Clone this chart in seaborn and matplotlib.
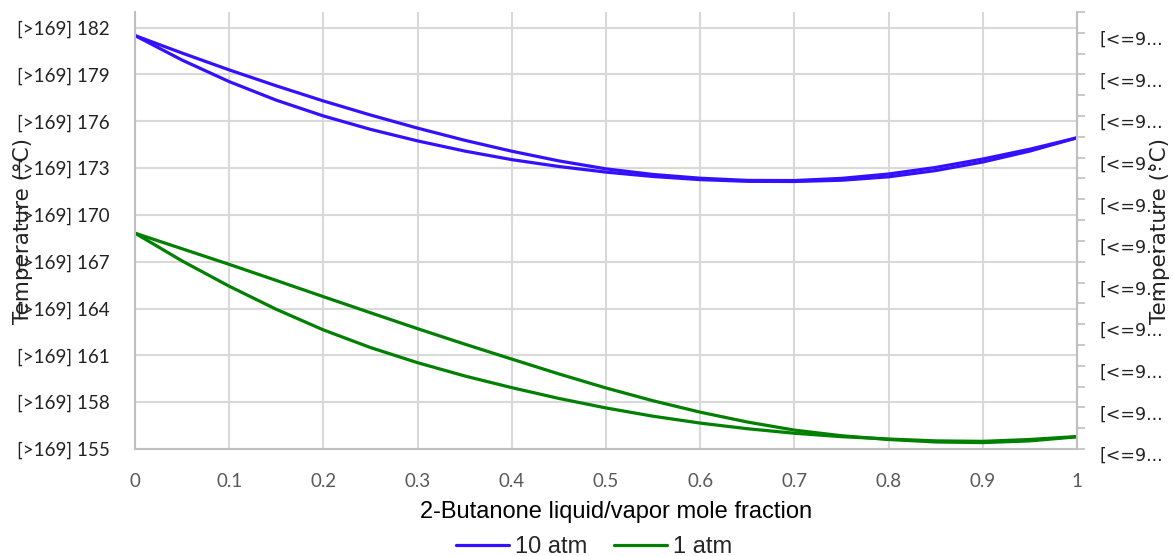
import matplotlib
matplotlib.use("Agg")
import matplotlib.pyplot as plt
import matplotlib.transforms as mtransforms
import seaborn as sns
import pandas as pd
from matplotlib.ticker import FixedLocator, FixedFormatter

# ---- data ----
x_frac = [0, 0.05, 0.1, 0.15, 0.2, 0.25, 0.3, 0.35, 0.4, 0.45, 0.5,
          0.55, 0.6, 0.65, 0.7, 0.75, 0.8, 0.85, 0.9, 0.95, 1.0]
t10_vapor = [181.49, 180.37, 179.29, 178.27, 177.30, 176.40, 175.56, 174.78, 174.08, 173.46, 172.95,
             172.59, 172.35, 172.21, 172.20, 172.34, 172.62, 173.04, 173.58, 174.21, 174.94]
t10_liquid = [181.49, 179.92, 178.54, 177.35, 176.34, 175.48, 174.74, 174.09, 173.54, 173.10, 172.74,
              172.46, 172.26, 172.15, 172.14, 172.22, 172.44, 172.84, 173.39, 174.09, 174.94]
t1_vapor = [168.83, 167.83, 166.83, 165.80, 164.76, 163.73, 162.71, 161.72, 160.76, 159.81, 158.91,
            158.09, 157.36, 156.73, 156.21, 155.85, 155.61, 155.45, 155.41, 155.52, 155.78]
t1_liquid = [168.83, 167.05, 165.43, 163.95, 162.63, 161.50, 160.53, 159.68, 158.93, 158.24, 157.63,
             157.10, 156.66, 156.30, 156.01, 155.79, 155.64, 155.52, 155.49, 155.61, 155.80]

series_names = ["10 atm", "1 atm"]
colors = ["#3311FF", "#008000"]
y_ticks = [155, 158, 161, 164, 167, 170, 173, 176, 179, 182]
y_ticklabels = [f"[>169] {v}" for v in y_ticks]
x_ticks = [0, 0.1, 0.2, 0.3, 0.4, 0.5, 0.6, 0.7, 0.8, 0.9, 1]
x_ticklabels = ["0", "0.1", "0.2", "0.3", "0.4", "0.5", "0.6", "0.7", "0.8", "0.9", "1"]
right_major = [0, 2, 4, 6, 8, 10, 12, 14, 16, 18, 20]
right_minor = [1, 3, 5, 7, 9, 11, 13, 15, 17, 19, 21]
right_label = "[<=9..."
x_title = "2-Butanone liquid/vapor mole fraction"
y_title = "Temperature (°C)"

sns.set_theme(style="white")
plt.rcParams["font.family"] = ["DejaVu Sans"]

fig = plt.figure(figsize=(11.73, 5.56), dpi=100)
ax = fig.add_axes([135/1173, 1 - 449/556, 942/1173, 437/556])

curves = [
    (t10_vapor, 0), (t10_liquid, 0),
    (t1_vapor, 1), (t1_liquid, 1),
]
for i, (vals, k) in enumerate(curves):
    df = pd.DataFrame({"x": x_frac, "T": vals})
    sns.lineplot(data=df, x="x", y="T", ax=ax, color=colors[k], linewidth=2.3,
                 sort=False, label=series_names[k] if i % 2 == 0 else None, legend=False)
for ln in ax.get_lines():
    ln.set_solid_joinstyle("round")
    ln.set_solid_capstyle("round")

ax.set_xlim(0, 1)
ax.set_ylim(155, 183)
ax.set_xticks(x_ticks)
ax.set_xticklabels(x_ticklabels)
ax.set_yticks(y_ticks)
ax.set_yticklabels(y_ticklabels)
ax.grid(True, color="#d9d9d9", linewidth=1.5)
ax.set_axisbelow(True)
for s in ["top", "right"]:
    ax.spines[s].set_visible(False)
for s in ["left", "bottom"]:
    ax.spines[s].set_color("#bfbfbf")
    ax.spines[s].set_linewidth(1.5)
ax.tick_params(axis="x", length=0, pad=17, labelsize=13.5, labelcolor="#595959")
ax.tick_params(axis="y", length=0, pad=18, labelsize=13.5, labelcolor="#222222")
for lbl in ax.get_xticklabels() + ax.get_yticklabels():
    lbl.set_fontfamily("Lato")
ax.set_xlabel(x_title, fontsize=17, family="Liberation Sans", color="black")
ax.xaxis.set_label_coords(0.511, -0.145)
ax.xaxis.label.set_va("center")
ax.set_ylabel(y_title, fontsize=15.5, color="#222222")
ax.yaxis.set_label_coords(-0.108, 0.5)

ax2 = ax.twinx()
ax2.set_ylim(0, 21)
ax2.yaxis.set_major_locator(FixedLocator(right_major))
ax2.yaxis.set_major_formatter(FixedFormatter([right_label] * len(right_major)))
ax2.yaxis.set_minor_locator(FixedLocator(right_minor))
for s in ["top", "left", "bottom"]:
    ax2.spines[s].set_visible(False)
ax2.spines["right"].set_color("#bfbfbf")
ax2.spines["right"].set_linewidth(1.5)
ax2.tick_params(axis="y", which="both", direction="out", length=6, width=1.2,
                color="#bfbfbf", right=True, labelsize=12.5, pad=10, labelcolor="#222222")
ax2.grid(False)
ax2.set_ylabel(y_title, fontsize=15.5, color="#222222")
ax2.yaxis.set_label_coords(1.077, 0.5)

# shift right labels slightly downward as in the reference
shift = mtransforms.ScaledTranslation(0, -5/100, fig.dpi_scale_trans)
for lbl in ax2.get_yticklabels():
    lbl.set_transform(lbl.get_transform() + shift)

handles, labels = ax.get_legend_handles_labels()
fig.legend(handles, labels, loc="center", bbox_to_anchor=(594/1173, 1 - 547/556),
           ncol=2, frameon=False, prop={"family": "Liberation Sans", "size": 17},
           handlelength=2.25, handletextpad=0.25, columnspacing=1.1)

fig.savefig("out.png", dpi=100)
